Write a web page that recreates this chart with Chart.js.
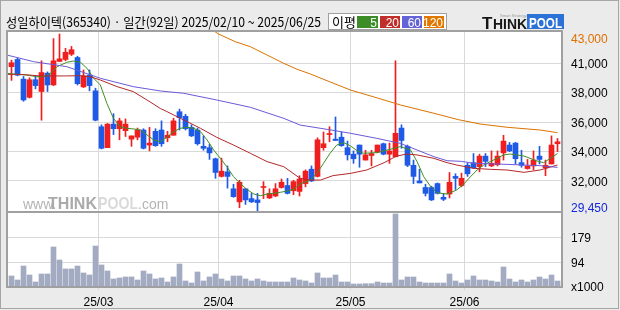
<!DOCTYPE html>
<html>
<head>
<meta charset="utf-8">
<script src="https://cdn.jsdelivr.net/npm/chart.js@4.4.1/dist/chart.umd.min.js"></script>
<style>
  html, body { margin: 0; padding: 0; background: #ebebeb; }
  #wrap { width: 620px; height: 310px; }
</style>
</head>
<body>
<div id="wrap"><canvas id="chart" width="620" height="310"></canvas></div>
<script>
// 성일하이텍 일봉 2025/02/10 ~ 2025/06/25 (92 거래일)
const title = "성일하이텍(365340) · 일간(92일) 2025/02/10 ~ 2025/06/25";

const opens  = [40500,41050,39550,38150,39500,38600,40000,39100,40900,41050,41450,41200,38950,39850,38650,35900,34300,36100,35750,35600,
                34950,35100,35650,34500,35550,35650,35050,35250,37050,36700,35850,35650,34400,34300,33450,32100,32450,31150,30150,31150,
                30400,30300,31250,30450,30600,31250,31400,31000,30950,31550,32650,32100,34300,35300,34950,35100,34300,33800,34500,33350,
                33700,33950,34600,33800,33600,35800,34400,32950,31750,31250,31250,31550,30500,30750,32100,31400,32950,33150,32850,33650,
                32900,33000,33900,34500,34650,33150,32700,32900,33650,32750,33050,34600];
const highs  = [41000,41150,39750,39650,39750,40950,40100,42650,43000,41900,42050,41300,40250,40250,38850,36050,36150,36900,36550,36500,
                35200,35800,35750,35850,35750,36350,35550,36550,37250,36850,36050,35800,35200,34550,33500,33500,32900,31500,31800,31150,
                30800,30800,31700,31150,31550,31900,31950,31800,32150,32600,32900,35050,35500,35900,36650,35500,34800,34050,34500,34100,
                34100,34500,34650,34650,40950,36050,34500,33350,32650,31500,31350,31600,30800,32400,32300,32350,33100,33850,33800,33850,
                34050,34050,35250,34700,34700,34100,33400,34050,34400,33350,35200,35000];
const lows   = [39450,39800,37850,38100,38800,36400,38600,39050,40900,40950,41350,39100,38900,38650,36350,34200,34300,35300,34900,35150,
                34400,34900,34200,34050,34400,34400,34750,35250,35650,35650,35150,34500,34100,33400,31950,32050,31200,30500,29700,29950,
                30100,29450,30400,30400,30550,31200,30750,30700,30600,31300,31700,32050,34100,34750,34850,34400,33350,33100,32800,33350,
                32900,33900,33750,33100,33600,34250,32850,31550,31600,30600,30250,30750,30250,30450,31100,31300,32100,32700,32450,32850,
                32850,32900,33350,34000,33050,32800,32650,32600,33050,32150,33050,34000];
const closes = [40800,39850,37950,39500,39050,40050,39100,40950,41100,41600,41800,39200,39800,39050,36400,34250,36100,35750,36350,36100,
                35200,35650,34250,34650,34450,34600,35250,36350,36600,35750,35200,34600,34250,33900,32400,32500,32100,30550,31650,30300,
                30150,30100,31300,30800,31150,31650,30800,31700,31900,32500,31750,34900,34600,35350,34850,34450,33750,33450,33800,33750,
                33850,34500,33800,34050,35400,34850,32950,32100,31600,30800,30300,30800,30350,31650,31950,31950,32300,32750,33650,33250,
                33100,33650,34800,34050,33450,32950,32900,33350,33400,32950,34500,34750];
// 거래량 (x1000주)
const volumes = [46.6,32.8,81,50,25.9,53.5,53.5,146.7,101.8,70.8,70.8,81,57,50,150,84.6,63.9,36.3,39.7,43.2,
                 43.2,32.8,63.9,53.5,36.3,39.7,25.9,43.2,88,29.4,22.5,60.4,29.4,43.2,53.5,36.3,29.4,46.6,46.6,36.3,
                 29.4,36.3,29.4,25.9,25.9,25.9,25.9,39.7,32.8,29.4,22.5,57,39.7,39.7,50,25.9,25.9,19,19,20,
                 20,25.9,22.4,22.4,260.5,32.8,43.1,43.1,25.9,22.4,22.4,22.4,22.4,53.5,29.3,22.4,32.8,46.6,32.8,32.8,
                 29.3,25.9,77.6,36.2,25.9,32.8,25.9,32.8,43.1,36.2,50,29.3];

// 이동평균선 (그림에서 읽은 값: [거래일 위치, 가격])
const ma5 = [[-0.75,39990],[0.9,39910],[2.6,39860],[4.2,39730],[5.4,39730],[6.5,39990],[7.6,40500],[9.2,40830],[10.3,40930],[11.5,40830],
             [12.6,40370],[13.7,39610],[14.8,39100],[15.9,37690],[17,36540],[18.1,35910],[19.2,35780],[20.4,35730],[21.5,35650],[22.6,35270],
             [23.7,34890],[24.8,34760],[25.9,35090],[27,35520],[28.1,35780],[29.2,35860],[30.4,35780],[31.5,35520],[32.6,34890],[33.7,34120],
             [34.8,33480],[35.9,32840],[37,32080],[38.1,31570],[39.2,31110],[40.4,30750],[41.5,30620],[42.6,30750],[43.7,30800],[44.8,30880],
             [45.9,30980],[47,31110],[48.1,31520],[49.8,31820],[50.9,32330],[52,33100],[53.1,33870],[54.2,34500],[55.4,34680],[56.5,34430],
             [57.6,34070],[58.7,33870],[60.9,33920],[63.1,34170],[64.8,34380],[66.5,34120],[67.6,33230],[68.7,32080],[69.8,31360],[70.9,30850],
             [72.6,30750],[74.2,31060],[75.4,31520],[76.5,32080],[77.6,32590],[78.7,32970],[79.8,33230],[80.9,33480],[82,33740],[83.1,33810],
             [85.4,33660],[87.6,33280],[88.7,33150],[89.8,33480],[91,33850]];
const ma20 = [[-0.75,39910],[1.5,39910],[4.8,39790],[9.2,39790],[11.5,39810],[13.1,39730],[14.8,39480],[17.6,38970],[20.3,38590],[23.1,37800],
              [24.8,37300],[25.9,37060],[28.7,36420],[31.5,35780],[34.2,35090],[37,34500],[39.8,33870],[42.6,33230],[45.4,32840],[48.1,31950],
              [49.8,31820],[51.5,31820],[53.6,32160],[56.5,32330],[59.2,32590],[62.1,33150],[64.2,33660],[65.9,33810],[67.6,33740],[70.4,33480],
              [72.6,33150],[74.2,32970],[77,32720],[79.8,32640],[82.6,32590],[85.4,32410],[88.1,32590],[91,32970]];
const ma60 = [[-0.75,41390],[3.7,40880],[9.2,40500],[14.8,39610],[20.3,38970],[24.8,38640],[28.7,38460],[34.2,37950],[39.8,37390],[45.4,36540],
              [48.1,36030],[52.6,35700],[56.5,35400],[60.9,35010],[64.8,34630],[67.6,34120],[70.4,33610],[72.6,33300],[75,33250],[77,33100],
              [82.6,33020],[88.1,32920],[91,32790]];
const ma120 = [[33.5,43300],[34.5,43000],[37.3,42410],[39.8,42030],[42.6,41390],[45.4,40750],[47.6,40300],[49.8,39940],[53,39350],[56.5,38710],
               [61,38100],[64.8,37570],[70.4,36930],[74.5,36440],[78.1,36110],[82.6,35860],[88.1,35650],[91,35450]];

const maPeriods = ["5", "20", "60", "120"];

// 축 눈금 (가격 축 눈금선 위치와 표시 문자)
const priceTicks = [42670, 40760, 38510, 36260, 34020, 31770, 29780];
const priceLabels = ["43,000", "41,000", "38,000", "36,000", "34,000", "32,000", "29,450"];
const volumeTicks = [179, 94, 10];
const volumeLabels = ["179", "94", "x1000"];
const monthStarts = [15, 35, 57, 76];
const monthLabels = ["25/03", "25/04", "25/05", "25/06"];

const UP = "#f01e1e", DOWN = "#1e5ae6";
const maColors = ["#3f8f25", "#b42828", "#6a5ad8", "#dc7200"];
const legendColors = ["#3c8c28", "#c0302a", "#6464d8", "#e07800"];
const FONT = '"Liberation Sans", Arial, sans-serif';
const KFONT = '"Noto Sans CJK KR", "Noto Sans", sans-serif';

const idx = closes.map((_, i) => i);
const candleColors = idx.map(i => closes[i] >= opens[i] ? UP : DOWN);
const toPts = arr => arr.map(p => ({ x: p[0], y: p[1] }));

const decor = {
  id: "decor",
  beforeDraw(chart) {
    const { ctx, chartArea: a } = chart;
    ctx.save();
    ctx.fillStyle = "#ebebeb";
    ctx.fillRect(0, 0, chart.width, chart.height);
    ctx.strokeStyle = "#a6a6a6";
    ctx.lineWidth = 1;
    ctx.strokeRect(0.5, 0.5, 618, 308);
    ctx.fillStyle = "#fff";
    ctx.fillRect(a.left, a.top, a.right - a.left, a.bottom - a.top);

    // 제목
    ctx.fillStyle = "#000";
    ctx.font = "13px " + KFONT;
    ctx.textBaseline = "alphabetic";
    ctx.fillText(title, 6, 27, 315);

    // 이평 범례
    ctx.fillStyle = "#fff";
    ctx.fillRect(328, 14, 119, 15);
    ctx.strokeStyle = "#a0a0a0";
    ctx.strokeRect(328.5, 13.5, 118, 16);
    ctx.fillStyle = "#000";
    ctx.font = "13px " + KFONT;
    ctx.fillText("이평", 332, 26.5);
    const bx = [357, 380, 402, 424], bw = [21, 20, 20, 20];
    ctx.font = "12px " + FONT;
    ctx.textAlign = "right";
    maPeriods.forEach((p, k) => {
      ctx.fillStyle = legendColors[k];
      ctx.fillRect(bx[k], 16, bw[k], 12);
      ctx.fillStyle = "#fff";
      ctx.fillText(p, bx[k] + bw[k] - 1, 26.5);
    });
    ctx.textAlign = "left";

    // 로고
    ctx.fillStyle = "#151515";
    ctx.font = "bold 17px " + FONT;
    ctx.fillText("T", 482, 29);
    ctx.font = "bold 14px " + FONT;
    ctx.fillText("HINK", 493, 29, 34);
    ctx.fillStyle = "#2a72d8";
    ctx.fillRect(527, 14, 37, 15);
    ctx.fillStyle = "#fff";
    ctx.font = "bold 14px " + FONT;
    ctx.fillText("POOL", 529, 27.5, 33);
    ctx.fillStyle = "#9a9a9a";
    ctx.font = "4px " + FONT;
    ctx.fillText("Smart Strategy", 500, 17);

    // 워터마크
    ctx.fillStyle = "#b4b4b4";
    ctx.font = "14px " + FONT;
    ctx.fillText("www.", 23, 208.5);
    ctx.font = "bold 17px " + FONT;
    ctx.fillStyle = "#aaaaaa";
    ctx.fillText("THINK", 48, 208.5, 49);
    ctx.fillStyle = "#dadada";
    ctx.fillText("POOL", 98, 208.5, 40);
    ctx.fillStyle = "#b4b4b4";
    ctx.font = "14px " + FONT;
    ctx.fillText(".com", 138, 208.5);
    ctx.restore();
  },
  afterDraw(chart) {
    const { ctx, chartArea: a, scales } = chart;
    ctx.save();
    ctx.strokeStyle = "#a0a0a0";
    ctx.lineWidth = 2;
    ctx.strokeRect(a.left, a.top, a.right - a.left, a.bottom - a.top);
    ctx.beginPath();
    ctx.moveTo(a.left, scales.y.bottom);
    ctx.lineTo(a.right, scales.y.bottom);
    ctx.stroke();
    ctx.restore();
  }
};

const lineDs = (pts, color) => ({
  type: "line", data: toPts(pts), yAxisID: "y", borderColor: color, borderWidth: 1,
  pointRadius: 0, tension: 0, fill: false, order: 0
});

new Chart(document.getElementById("chart"), {
  type: "bar",
  data: {
    datasets: [
      lineDs(ma120, maColors[3]),
      lineDs(ma60, maColors[2]),
      lineDs(ma20, maColors[1]),
      lineDs(ma5, maColors[0]),
      {
        data: idx.map(i => ({ x: i, y: [lows[i], highs[i]] })),
        yAxisID: "y", backgroundColor: candleColors, barThickness: 1, grouped: false, order: 2
      },
      {
        data: idx.map(i => ({ x: i, y: [opens[i], closes[i]] })),
        yAxisID: "y", backgroundColor: candleColors, barThickness: 5, minBarLength: 1, grouped: false, order: 1
      },
      {
        data: idx.map(i => ({ x: i, y: volumes[i] })),
        yAxisID: "v", backgroundColor: "#a3abc2", barThickness: 5, grouped: false, order: 3
      }
    ]
  },
  options: {
    responsive: false,
    animation: false,
    devicePixelRatio: 1,
    layout: { padding: { left: 7, top: 31, right: 0, bottom: 0 }, autoPadding: false },
    plugins: { legend: { display: false }, tooltip: { enabled: false } },
    scales: {
      x: {
        type: "linear", min: -0.75, max: 91.75, offset: false,
        afterBuildTicks: s => { s.ticks = monthStarts.map(i => ({ value: i - 0.5 })); },
        afterFit: s => { s.height = 23; },
        grid: { color: "#d9d9d9", lineWidth: 1, tickLength: 3, drawTicks: true, offset: false },
        border: { display: false },
        ticks: {
          autoSkip: false, maxRotation: 0, padding: 5, color: "#000",
          font: { size: 12, family: FONT },
          callback: (v, i) => monthLabels[i]
        }
      },
      y: {
        type: "linear", position: "right", stack: "panes", stackWeight: 181,
        min: 29374, max: 43230,
        afterBuildTicks: s => { s.ticks = priceTicks.map(v => ({ value: v })); },
        afterFit: s => { s.width = 58; },
        grid: {
          drawTicks: false, lineWidth: 1,
          color: c => (c.index === 0 || c.index === priceTicks.length - 1) ? "rgba(0,0,0,0)" : "#d9d9d9"
        },
        border: { display: false },
        ticks: {
          autoSkip: false, padding: 9, labelOffset: 1.5, font: { size: 12, family: FONT },
          color: c => c.index === 0 ? "#e07000" : (c.index === priceTicks.length - 1 ? "#1428dc" : "#000"),
          callback: (v, i) => priceLabels[i]
        }
      },
      v: {
        type: "linear", position: "right", stack: "panes", stackWeight: 75,
        min: 8.6, max: 267.4,
        afterBuildTicks: s => { s.ticks = volumeTicks.map(v => ({ value: v })); },
        afterFit: s => { s.width = 58; },
        grid: {
          drawTicks: false, lineWidth: 1,
          color: c => c.index === volumeTicks.length - 1 ? "rgba(0,0,0,0)" : "#d9d9d9"
        },
        border: { display: false },
        ticks: {
          autoSkip: false, padding: 9, labelOffset: 1.5, font: { size: 12, family: FONT }, color: "#000",
          callback: (v, i) => volumeLabels[i]
        }
      }
    }
  },
  plugins: [decor]
});
</script>
</body>
</html>
